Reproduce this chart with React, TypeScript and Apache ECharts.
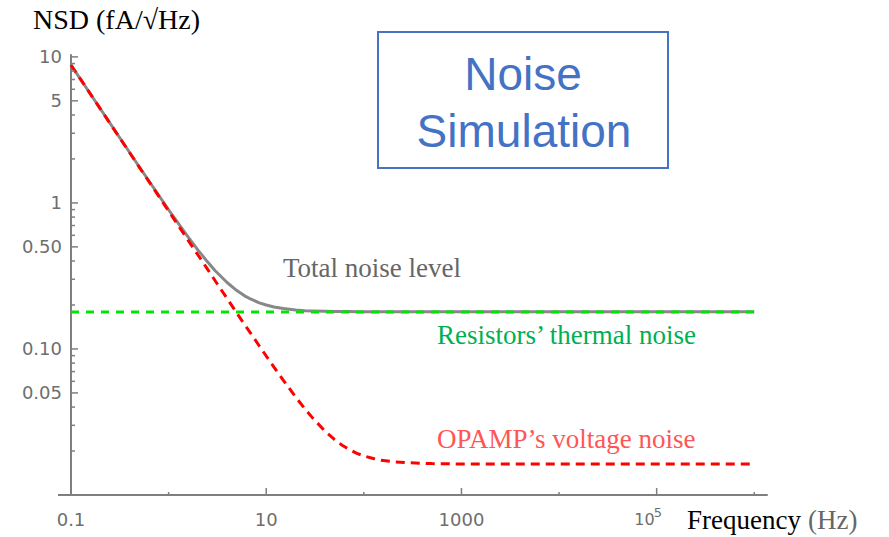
import React, { useEffect, useRef } from "react";
import * as echarts from "echarts";

const FREQ_HZ = [0.1, 0.5, 1, 1.5, 2, 2.5, 3, 4, 5, 6, 7, 8.5, 10, 12, 15, 20, 25, 30, 40, 50, 60, 70, 85, 100, 125, 150, 200, 300, 500, 1000, 1e4, 1e5, 1e6];
// OPAMP's voltage noise (fA/√Hz), red dashed
const OPAMP_NOISE = [8.8, 1.76, 0.88, 0.587, 0.44, 0.352, 0.293, 0.22, 0.176, 0.147, 0.127, 0.1048, 0.0895, 0.0751, 0.0609, 0.0469, 0.0388, 0.0336, 0.0274, 0.024, 0.0219, 0.0206, 0.0193, 0.0185, 0.0178, 0.0173, 0.0169, 0.0166, 0.0164, 0.0163, 0.0163, 0.0163, 0.0163];
// Resistors' thermal noise, green dashed
const RESISTOR_NOISE = [0.179, 0.179, 0.179, 0.179, 0.179, 0.179, 0.179, 0.179, 0.179, 0.179, 0.179, 0.179, 0.179, 0.179, 0.179, 0.179, 0.179, 0.179, 0.179, 0.179, 0.179, 0.179, 0.179, 0.179, 0.179, 0.179, 0.179, 0.179, 0.179, 0.179, 0.179, 0.179, 0.179];
// Total noise level, gray solid
const TOTAL_NOISE = [8.8, 1.769, 0.898, 0.614, 0.475, 0.395, 0.343, 0.284, 0.251, 0.231, 0.219, 0.207, 0.2, 0.194, 0.189, 0.185, 0.183, 0.182, 0.181, 0.1806, 0.1803, 0.1802, 0.18, 0.1799, 0.1798, 0.1798, 0.1798, 0.1797, 0.1797, 0.1797, 0.1797, 0.1797, 0.1797];

// Axis ranges and ticks
const X_MIN = 0.1;
const X_MAX = 1.35e6;
const Y_MIN = 0.01;
const Y_MAX = 10.3;
const X_MAJOR_TICKS = [0.1, 10, 1000, 1e5];
const X_MAJOR_LABELS = ["0.1", "10", "1000", "10^5"];
const X_MINOR_TICKS = [1, 100, 1e4, 1e6];
const Y_MAJOR_TICKS = [10, 5, 1, 0.5, 0.1, 0.05];
const Y_MAJOR_LABELS = ["10", "5", "1", "0.50", "0.10", "0.05"];
const Y_MINOR_TICKS = [9, 8, 7, 6, 4, 3, 2, 0.9, 0.8, 0.7, 0.6, 0.4, 0.3, 0.2, 0.09, 0.08, 0.07, 0.06, 0.04, 0.03, 0.02];

const AXIS_COLOR = "#7f7f7f";
const LABEL_COLOR = "#6e6e6e";
const LABEL_FONT = "DejaVu Sans";
const SERIF = "Liberation Serif";

export default function App() {
  const ref = useRef<HTMLDivElement>(null);

  useEffect(() => {
    if (!ref.current) return;
    const chart = echarts.init(ref.current, null, { renderer: "svg" });

    const pairs = (ys: number[]) => FREQ_HZ.map((f, i) => [f, ys[i]]);

    const xTickData = [
      ...X_MAJOR_TICKS.map((v, i) => [v, Y_MIN, 1, i]),
      ...X_MINOR_TICKS.map((v) => [v, Y_MIN, 0, -1]),
    ];
    const yTickData = [
      ...Y_MAJOR_TICKS.map((v, i) => [X_MIN, v, 1, i]),
      ...Y_MINOR_TICKS.map((v) => [X_MIN, v, 0, -1]),
    ];

    const textStyle = (text: string, size: number, fill: string, align: string, family = LABEL_FONT) => ({
      text,
      fill,
      fontSize: size,
      fontFamily: family,
      align,
      textAlign: align,
      verticalAlign: "middle",
      textVerticalAlign: "middle",
    });

    const option: any = {
      animation: false,
      backgroundColor: "#ffffff",
      grid: { left: 71, top: 55, right: 122, bottom: 42, containLabel: false },
      xAxis: {
        type: "log",
        logBase: 10,
        min: X_MIN,
        max: X_MAX,
        axisLine: { show: true, lineStyle: { color: AXIS_COLOR, width: 2 } },
        axisTick: { show: false },
        axisLabel: { show: false },
        splitLine: { show: false },
        minorTick: { show: false },
      },
      yAxis: {
        type: "log",
        logBase: 10,
        min: Y_MIN,
        max: Y_MAX,
        axisLine: { show: true, onZero: false, lineStyle: { color: AXIS_COLOR, width: 2 } },
        axisTick: { show: false },
        axisLabel: { show: false },
        splitLine: { show: false },
        minorTick: { show: false },
      },
      series: [
        {
          name: "Total noise level",
          type: "line",
          data: pairs(TOTAL_NOISE),
          showSymbol: false,
          symbol: "none",
          lineStyle: { color: "#888888", width: 3, join: "round" },
          z: 2,
        },
        {
          name: "Resistors’ thermal noise",
          type: "line",
          data: pairs(RESISTOR_NOISE),
          showSymbol: false,
          symbol: "none",
          lineStyle: { color: "#00e600", width: 3, type: [8, 7] },
          z: 3,
        },
        {
          name: "OPAMP’s voltage noise",
          type: "line",
          data: pairs(OPAMP_NOISE),
          showSymbol: false,
          symbol: "none",
          lineStyle: { color: "#ff0000", width: 3, type: [9, 6] },
          z: 4,
        },
        {
          type: "custom",
          silent: true,
          clip: false,
          data: xTickData,
          z: 5,
          renderItem: (_params: any, api: any) => {
            const p = api.coord([api.value(0), api.value(1)]);
            const major = api.value(2) === 1;
            const idx = api.value(3);
            const children: any[] = [
              {
                type: "line",
                shape: { x1: p[0], y1: p[1], x2: p[0], y2: p[1] - (major ? 7 : 3) },
                style: { stroke: AXIS_COLOR, lineWidth: 1.5 },
              },
            ];
            if (major) {
              const label = X_MAJOR_LABELS[idx];
              if (label === "10^5") {
                children.push({
                  type: "text",
                  x: p[0] - 2,
                  y: p[1] + 24,
                  style: textStyle("10", 16, LABEL_COLOR, "right"),
                });
                children.push({
                  type: "text",
                  x: p[0] - 3,
                  y: p[1] + 17,
                  style: textStyle("5", 13, LABEL_COLOR, "left"),
                });
              } else {
                children.push({
                  type: "text",
                  x: p[0],
                  y: p[1] + 24,
                  style: textStyle(label, 18, LABEL_COLOR, "center"),
                });
              }
            }
            return { type: "group", children };
          },
        },
        {
          type: "custom",
          silent: true,
          clip: false,
          data: yTickData,
          z: 5,
          renderItem: (_params: any, api: any) => {
            const p = api.coord([api.value(0), api.value(1)]);
            const major = api.value(2) === 1;
            const idx = api.value(3);
            const children: any[] = [
              {
                type: "line",
                shape: { x1: p[0], y1: p[1], x2: p[0] + (major ? 7 : 4), y2: p[1] },
                style: { stroke: AXIS_COLOR, lineWidth: 1.5 },
              },
            ];
            if (major) {
              children.push({
                type: "text",
                x: p[0] - 9,
                y: p[1],
                style: textStyle(Y_MAJOR_LABELS[idx], 18, LABEL_COLOR, "right"),
              });
            }
            return { type: "group", children };
          },
        },
      ],
      graphic: [
        {
          type: "line",
          shape: { x1: 58, y1: 495, x2: 72, y2: 495 },
          style: { stroke: AXIS_COLOR, lineWidth: 2 },
        },
        {
          type: "text",
          x: 33,
          y: 19,
          style: textStyle("NSD (fA/√Hz)", 28, "#000000", "left", SERIF),
        },
        {
          type: "text",
          x: 687,
          y: 520,
          style: textStyle("Frequency", 27, "#000000", "left", SERIF),
        },
        {
          type: "text",
          x: 808,
          y: 520,
          style: textStyle("(Hz)", 27, "#666666", "left", SERIF),
        },
        {
          type: "rect",
          shape: { x: 378, y: 32, width: 290, height: 136 },
          style: { fill: "#ffffff", stroke: "#4472c4", lineWidth: 2 },
        },
        {
          type: "text",
          x: 523,
          y: 74,
          style: textStyle("Noise", 46, "#4472c4", "center", "Liberation Sans"),
        },
        {
          type: "text",
          x: 524,
          y: 131,
          style: textStyle("Simulation", 46, "#4472c4", "center", "Liberation Sans"),
        },
        {
          type: "text",
          x: 283,
          y: 268,
          style: textStyle("Total noise level", 27, "#666666", "left", SERIF),
        },
        {
          type: "text",
          x: 437,
          y: 335,
          style: textStyle("Resistors’ thermal noise", 27, "#00b050", "left", SERIF),
        },
        {
          type: "text",
          x: 437,
          y: 439,
          style: textStyle("OPAMP’s voltage noise", 27, "#ff5555", "left", SERIF),
        },
      ],
    };

    chart.setOption(option);
    return () => chart.dispose();
  }, []);

  return (
    <div
      ref={ref}
      style={{ position: "absolute", left: 0, top: 0, width: 889, height: 537 }}
    />
  );
}
